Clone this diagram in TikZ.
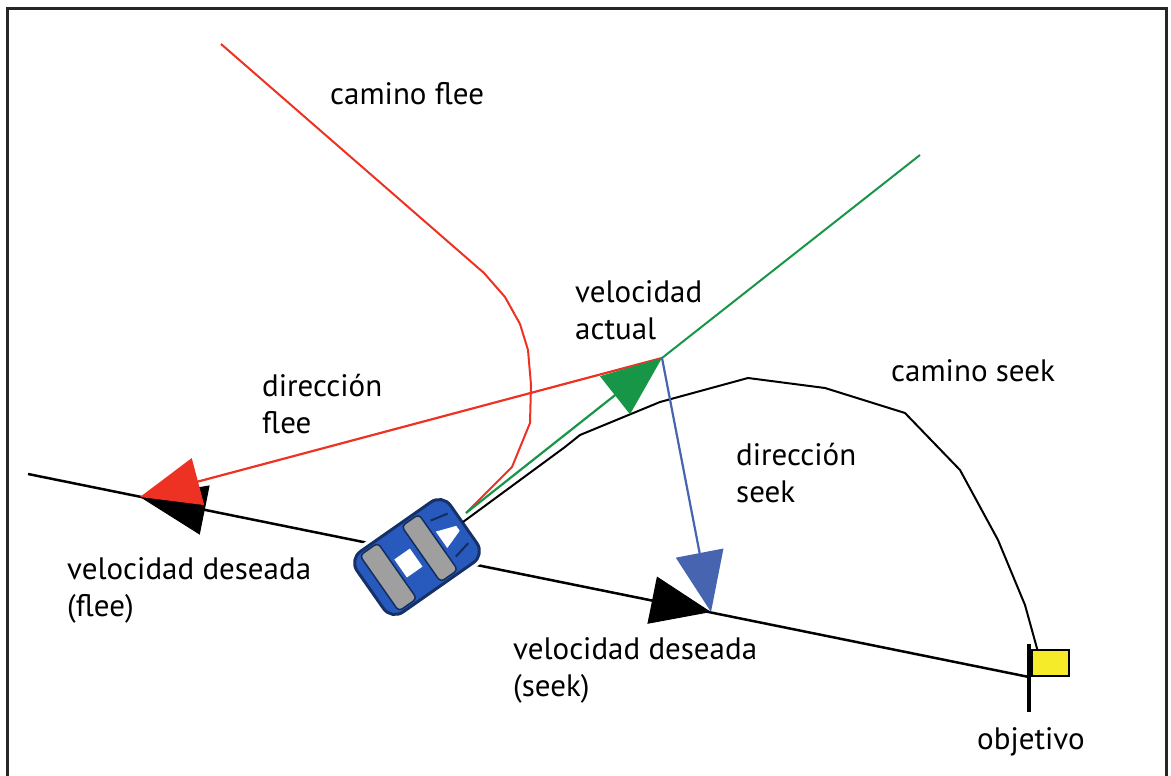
\documentclass[tikz,border=0pt]{standalone}
\usepackage{fontspec}
\setmainfont{PT Sans}
\usetikzlibrary{arrows.meta}

\begin{document}
\begin{tikzpicture}[x=1pt,y=-1pt,
	vec/.style={line width=2.2pt, -{Triangle[length=60pt,width=48pt]}},
	lbl/.style={anchor=base west, inner sep=0pt, align=left, font=\fontsize{31}{37}\selectfont}]

	\definecolor{fleered}{RGB}{237,50,36}
	\definecolor{velgreen}{RGB}{24,150,72}
	\definecolor{seekblue}{RGB}{70,100,175}
	\definecolor{carblue}{RGB}{40,90,190}
	\definecolor{flagyellow}{RGB}{245,235,40}

	\useasboundingbox (0,0) rectangle (1171,776);

	%frame
	\draw[line width=3pt, black!85] (7,776) -- (7,9) -- (1166,9) -- (1166,776);

	%points
	\coordinate (lineStart) at (28,474);
	\coordinate (goal)      at (1029,677);
	\coordinate (carMid)    at (418,553);
	\coordinate (carBody)   at (417,557);
	\coordinate (carFront)  at (466,513);
	\coordinate (carNose)   at (463,522);
	\coordinate (velTip)    at (662,358);
	\coordinate (greenEnd)  at (920,155);
	\coordinate (fleeTip)   at (140,497);
	\coordinate (seekTip)   at (711,612);

	% desired velocities (shafts hidden in the line)
	\draw[vec, line width=1pt] (carMid) -- (seekTip);
	\draw[vec, line width=1pt, -{Triangle[length=66pt,width=50pt]}] (carMid) -- (fleeTip);

	% desired velocity line
	\draw[line width=2.5pt] (lineStart) -- (goal);

	% car
	\begin{scope}[shift={(carBody)}, rotate=35]
		\fill[white] (-63,-42) rectangle (63,42);
		\filldraw[fill=carblue, draw=carblue!55!black, line width=3pt, rounded corners=14pt]
			(-57,-37) rectangle (57,37);
		\filldraw[fill=gray!75, draw=carblue!50!black, line width=1.5pt, rounded corners=4pt]
			(-46,-34) rectangle (-24,34);
		\filldraw[fill=gray!75, draw=carblue!50!black, line width=1.5pt, rounded corners=4pt]
			(5,-34) rectangle (26,34);
		\fill[white] (-20,-11) rectangle (-1,11);
		\fill[white] (30,-10) -- (50,-3) -- (50,3) -- (30,10) -- cycle;
		\draw[carblue!50!black, line width=2pt] (32,-22) -- (50,-18);
		\draw[carblue!50!black, line width=2pt] (32,22) -- (50,18);
	\end{scope}

	% flee path
	\draw[fleered, line width=2pt]
		(221,44) -- (484,273) -- (505,297) -- (520,324) -- (528,350) -- (531,385)
		-- (530,423) -- (512,467) -- (carFront);

	% seek path
	\draw[line width=2pt]
		(carNose) -- (565,447) -- (580,435) -- (660,402) -- (748,378) -- (825,388)
		-- (905,413) -- (960,470) -- (998,540) -- (1025,605) -- (1038,652);

	% current velocity
	\draw[velgreen, line width=2pt] (velTip) -- (greenEnd);
	\draw[vec, fleered] (velTip) -- (fleeTip);
	\draw[vec, velgreen] (carFront) -- (velTip);
	\draw[vec, seekblue] (velTip) -- (seekTip);

	% target flag
	\draw[line width=4pt] (1029,644) -- (1029,712);
	\filldraw[fill=flagyellow, draw=black, line width=2pt] (1032,650) rectangle (1069,676);

	% labels (base = last line)
	\node[lbl] (caminoFlee) at (330,105) {camino flee};
	\node[lbl] (velActual)  at (575,339) {velocidad\\actual};
	\node[lbl] (dirFlee)    at (262,433) {dirección\\flee};
	\node[lbl] (caminoSeek) at (891,381) {camino seek};
	\node[lbl] (dirSeek)    at (736,502) {dirección\\seek};
	\node[lbl] (velFlee)    at (67,616)  {velocidad deseada\\(flee)};
	\node[lbl] (velSeek)    at (513,696) {velocidad deseada\\(seek)};
	\node[lbl] (objetivo)   at (977,749) {objetivo};

\end{tikzpicture}
\end{document}
